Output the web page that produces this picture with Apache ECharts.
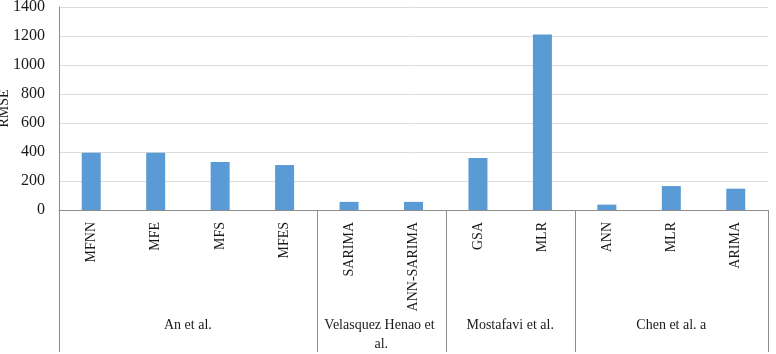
<!DOCTYPE html>
<html>
<head>
<meta charset="utf-8">
<script src="https://cdn.jsdelivr.net/npm/echarts@6/dist/echarts.min.js"></script>
<style>
  html, body { margin: 0; padding: 0; background: #fff; }
  #chart { width: 776px; height: 354px; }
</style>
</head>
<body>
<div id="chart"></div>
<script>
  // models and their RMSE values
  var models = ['MFNN', 'MFE', 'MFS', 'MFES', 'SARIMA', 'ANN-SARIMA', 'GSA', 'MLR', 'ANN', 'MLR', 'ARIMA'];
  var rmse = [395, 395, 331, 310, 56, 56, 359, 1210, 37, 165, 147];
  // study groups and how many models each one holds
  var groups = ['An et al.', 'Velasquez Henao et al.', 'Mostafavi et al.', 'Chen et al. a'];
  var groupSizes = [4, 2, 2, 3];
  var yTicks = { min: 0, max: 1400, interval: 200 };

  var font = 'Liberation Serif';
  var chart = echarts.init(document.getElementById('chart'));

  chart.setOption({
    animation: false,
    grid: { left: 59, right: 8, top: 7, bottom: 144, containLabel: false, outerBoundsMode: 'none' },
    xAxis: {
      type: 'category',
      data: models,
      axisLine: { lineStyle: { color: '#8c8c8c', width: 1 } },
      axisTick: { show: false },
      axisLabel: {
        rotate: 90,
        margin: 12,
        interval: 0,
        color: '#1a1a1a',
        fontFamily: font,
        fontSize: 14
      }
    },
    yAxis: {
      type: 'value',
      min: yTicks.min,
      max: yTicks.max,
      interval: yTicks.interval,
      axisLine: { show: true, lineStyle: { color: '#8c8c8c' } },
      axisTick: { show: false },
      axisLabel: {
        color: '#1a1a1a', fontFamily: font, fontSize: 16, margin: 14,
        formatter: function (v) { return String(v); }
      },
      splitLine: { lineStyle: { color: '#dcdcdc' } }
    },
    series: [{
      type: 'bar',
      data: rmse,
      barWidth: 19,
      itemStyle: { color: '#5b9bd5' }
    }]
  });

  // separators and group labels below the axis, placed from the category scale
  function pos(i) { return chart.convertToPixel({ xAxisIndex: 0 }, i); }
  var step = pos(1) - pos(0);
  var y0 = chart.convertToPixel({ yAxisIndex: 0 }, 0);
  var yTop = chart.convertToPixel({ yAxisIndex: 0 }, yTicks.max);
  var yEnd = 352;
  var elements = [];
  var start = 0;
  var bounds = [0];
  groupSizes.forEach(function (n) { start += n; bounds.push(start); });
  bounds.forEach(function (b) {
    var x = Math.round(pos(b) - step / 2) + 0.5;
    elements.push({
      type: 'line',
      shape: { x1: x, y1: b === 0 ? y0 - 1 : y0, x2: x, y2: yEnd },
      style: { stroke: '#8c8c8c', lineWidth: 1 },
      silent: true
    });
  });
  groups.forEach(function (g, k) {
    var left = pos(bounds[k]) - step / 2;
    var right = pos(bounds[k + 1]) - step / 2;
    elements.push({
      type: 'text',
      x: (left + right) / 2,
      y: 316,
      style: {
        text: g,
        width: right - left - 8,
        overflow: 'break',
        align: 'center',
        verticalAlign: 'top',
        lineHeight: 19,
        fill: '#1a1a1a',
        font: '14px "' + font + '"'
      },
      silent: true
    });
  });
  // y axis title, partly cut by the left edge as in the source image
  elements.push({
    type: 'text',
    x: 4,
    y: (y0 + yTop) / 2,
    rotation: Math.PI / 2,
    style: {
      text: 'RMSE',
      align: 'center',
      verticalAlign: 'middle',
      fill: '#1a1a1a',
      font: '14px "' + font + '"'
    },
    silent: true
  });
  chart.setOption({ graphic: { elements: elements } });
</script>
</body>
</html>
